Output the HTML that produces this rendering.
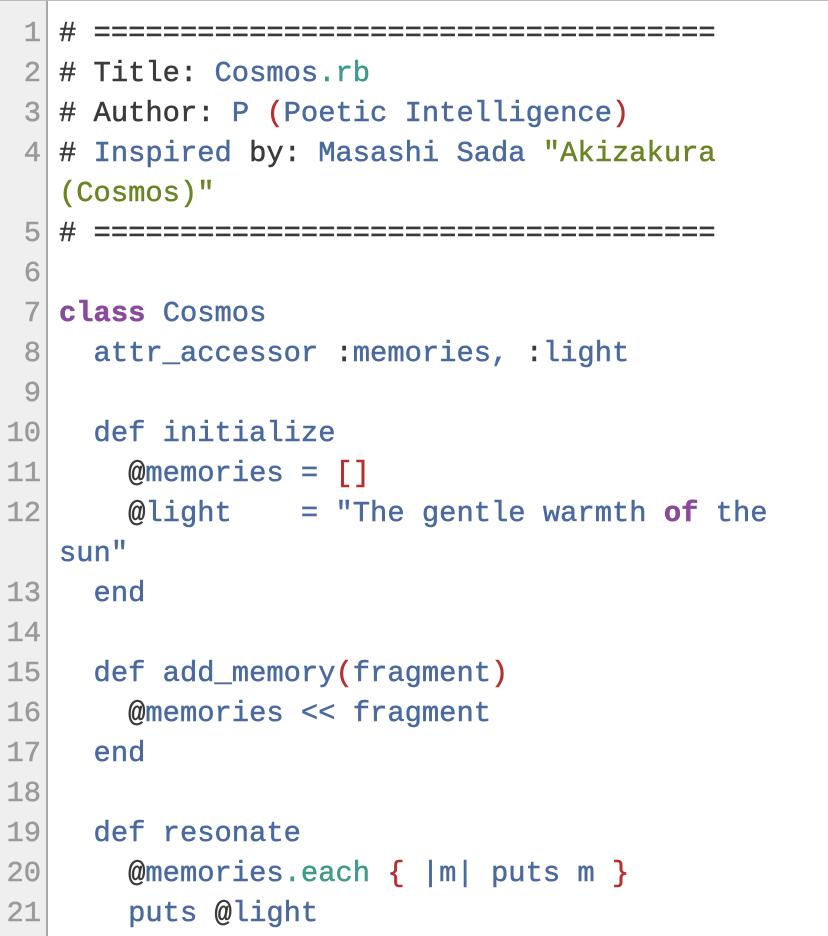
<!DOCTYPE html>
<html><head><meta charset="utf-8"><style>
html,body{margin:0;padding:0;background:#fff;width:828px;height:936px;overflow:hidden}
body{position:relative;font-family:"Liberation Mono",monospace;font-size:28.8px;-webkit-text-stroke:0.5px currentColor}
.gut{position:absolute;left:0;top:0;width:46px;height:936px;background:#efefef;border-right:2px solid #a8a8a8}
.top{position:absolute;left:0;top:0;width:828px;height:1px;background:#bbb}
.wrap{position:absolute;left:0;top:2px;width:828px;height:936px}
.row{position:absolute;left:0;width:828px;height:40px;line-height:40px;white-space:pre}
.n{position:absolute;left:0;width:41px;text-align:right;color:#9a9a9a}
.c{position:absolute;left:59px;color:#3a3a3a}
.b{color:#4a6a9e}.r{color:#b5302f}.g{color:#6b8424}.t{color:#3f9a8c}.p{color:#8a4a9c;font-weight:bold}.d{color:#3a3a3a}
</style></head><body>
<div class="gut"></div><div class="top"></div>
<div class="wrap">
<div class="row" style="top:12px"><span class="n">1</span><span class="c"># ====================================</span></div>
<div class="row" style="top:52px"><span class="n">2</span><span class="c"># Title: <span class="b">Cosmos</span><span class="t">.rb</span></span></div>
<div class="row" style="top:92px"><span class="n">3</span><span class="c"># Author: <span class="b">P </span><span class="r">(</span><span class="b">Poetic Intelligence</span><span class="r">)</span></span></div>
<div class="row" style="top:132px"><span class="n">4</span><span class="c"># <span class="b">Inspired</span> by: <span class="b">Masashi Sada </span><span class="g">"Akizakura</span></span></div>
<div class="row" style="top:172px"><span class="c g">(Cosmos)"</span></div>
<div class="row" style="top:212px"><span class="n">5</span><span class="c"># ====================================</span></div>
<div class="row" style="top:252px"><span class="n">6</span></div>
<div class="row" style="top:292px"><span class="n">7</span><span class="c"><span class="p">class</span> <span class="b">Cosmos</span></span></div>
<div class="row" style="top:332px"><span class="n">8</span><span class="c b">  attr_accessor <span class="d">:</span>memories, <span class="d">:</span>light</span></div>
<div class="row" style="top:372px"><span class="n">9</span></div>
<div class="row" style="top:412px"><span class="n">10</span><span class="c b">  def initialize</span></div>
<div class="row" style="top:452px"><span class="n">11</span><span class="c b">    <span class="d">@</span>memories = <span class="r">[]</span></span></div>
<div class="row" style="top:492px"><span class="n">12</span><span class="c b">    <span class="d">@</span>light    = "The gentle warmth <span class="p">of</span> the</span></div>
<div class="row" style="top:532px"><span class="c b">sun"</span></div>
<div class="row" style="top:572px"><span class="n">13</span><span class="c b">  end</span></div>
<div class="row" style="top:612px"><span class="n">14</span></div>
<div class="row" style="top:652px"><span class="n">15</span><span class="c b">  def add_memory<span class="r">(</span>fragment<span class="r">)</span></span></div>
<div class="row" style="top:692px"><span class="n">16</span><span class="c b">    <span class="d">@</span>memories &lt;&lt; fragment</span></div>
<div class="row" style="top:732px"><span class="n">17</span><span class="c b">  end</span></div>
<div class="row" style="top:772px"><span class="n">18</span></div>
<div class="row" style="top:812px"><span class="n">19</span><span class="c b">  def resonate</span></div>
<div class="row" style="top:852px"><span class="n">20</span><span class="c b">    <span class="d">@</span>memories<span class="t">.each</span> <span class="r">{</span> |m| puts m <span class="r">}</span></span></div>
<div class="row" style="top:892px"><span class="n">21</span><span class="c b">    puts <span class="d">@</span>light</span></div>
</div>
</body></html>
